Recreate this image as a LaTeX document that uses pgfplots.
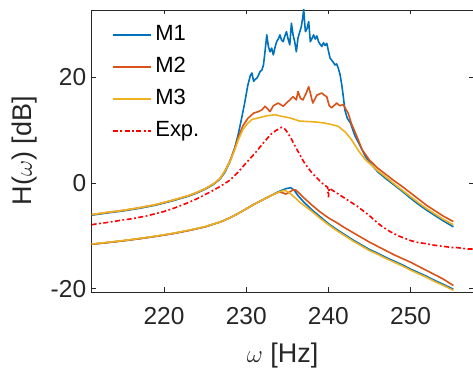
\documentclass[border=0pt]{standalone}
\usepackage{fontspec}
\setmainfont{Liberation Sans}
\usepackage{pgfplots}
\pgfplotsset{compat=1.18}
\usetikzlibrary{calc}
\definecolor{mblue}{rgb}{0,0.447,0.741}
\definecolor{morange}{rgb}{0.850,0.325,0.098}
\definecolor{myellow}{rgb}{0.929,0.694,0.125}
\definecolor{axgray}{rgb}{0.15,0.15,0.15}
\begin{document}
\begin{tikzpicture}
\begin{axis}[
 scale only axis, width=382pt, height=282pt,
 xmin=211.2, xmax=257.65, ymin=-20.6, ymax=32.7,
 xtick={220,230,240,250}, ytick={-20,0,20},
 tick align=inside, major tick length=4.5pt,
 axis line style={axgray, line width=0.6pt},
 every tick/.style={axgray, line width=0.6pt},
 tick label style={font=\fontsize{24.5}{28}\selectfont, text=axgray},
 xticklabel style={yshift=-12pt},
 yticklabel style={xshift=-2pt},
 /pgf/number format/assume math mode=true,
 xlabel={$\omega$ [Hz]}, ylabel={H($\omega$) [dB]},
 label style={font=\fontsize{27}{32}\selectfont, text=axgray},
 xlabel style={at={(axis description cs:0.5,-0.225)}, anchor=center},
 ylabel style={at={(axis description cs:-0.175,0.5)}, anchor=center},
 legend image code/.code={\draw[#1] (0pt,0pt) -- (38pt,0pt);},
 legend image post style={line width=2pt},
 legend style={draw=none, fill=none, at={(rel axis cs:0,1)}, anchor=north west,
   xshift=20pt, yshift=-15pt, font=\fontsize{22}{26}\selectfont, text=black,
   row sep=13pt, inner sep=0pt,
   nodes={inner sep=0pt, text height=15pt, text depth=4pt},
   /tikz/every odd column/.append style={column sep=3.5pt}},
 legend cell align=left,
]
\coordinate (SW) at (rel axis cs:0,0);
\coordinate (NE) at (rel axis cs:1,1);
% M1 upper
\addplot[mblue, line width=1.6pt, line join=round] coordinates {
(211.2,-6.1)(213,-5.7)(215,-5.3)(217,-4.8)(219,-4.2)(221,-3.4)(223,-2.5)(224,-1.9)(225,-1.2)(226,-0.3)(226.8,0.7)(227.4,2.0)(228,3.9)(228.6,6.6)
(229.0,9.0)(229.4,11.9)(229.8,15.0)(230.2,18.5)(230.5,20.3)(230.7,20.8)(230.9,19.2)(231.1,19.6)(231.3,19.8)(231.5,20.4)(231.7,21.1)(231.9,21.3)
(232.1,22.3)(232.3,25.0)(232.5,28.0)(232.7,25.8)(232.9,24.8)(233.1,25.5)(233.3,24.2)(233.5,25.6)(233.7,26.7)(233.9,27.2)(234.1,28.0)(234.3,27.0)
(234.5,26.7)(234.7,27.8)(234.9,28.6)(235.1,27.2)(235.3,26.1)(235.5,30.2)(235.7,28.0)(235.9,26.7)(236.1,24.8)(236.3,27.4)(236.5,28.5)(236.7,29.5)
(236.85,31.0)(237.0,32.8)(237.1,30.5)(237.2,28.6)(237.4,29.2)(237.6,30.5)(237.8,26.7)(238.0,27.3)(238.2,28.0)(238.4,27.2)(238.6,27.8)(238.8,26.7)
(239.0,26.2)(239.2,25.8)(239.4,26.5)(239.6,26.0)(239.8,26.4)(240.0,25.0)(240.2,23.6)(240.4,23.2)(240.6,22.8)(240.8,22.3)(241.0,22.5)(241.2,21.7)
(241.4,20.6)(241.6,18.8)(241.8,16.5)(242.0,13.8)(242.3,12.2)(242.7,11.3)(243.2,9.0)(243.7,7.5)(244.5,5.0)(245,3.9)(246,2.1)(247,0.8)(248,-0.4)
(249,-1.6)(250,-2.9)(251,-4.1)(252,-5.2)(253,-6.2)(254,-7.2)(255.2,-8.3)};
\addlegendentry{M1}
\addplot[mblue, line width=1.6pt, line join=round, forget plot] coordinates {
(211.2,-11.6)(213,-11.3)(215,-10.95)(217,-10.55)(219,-10.1)(221,-9.6)(223,-9.0)(225,-8.3)(227,-7.3)(228,-6.6)(229,-5.8)(230,-4.9)(231,-4.0)
(232,-3.2)(233,-2.4)(234,-1.6)(234.8,-1.1)(235.4,-0.9)(235.8,-1.3)(236.3,-2.4)(237,-3.6)(238,-5.1)(239,-6.4)(240,-7.7)(241,-8.8)(242,-9.8)
(243,-10.8)(244,-11.7)(245,-12.6)(246,-13.3)(247,-14.1)(248,-14.8)(249,-15.5)(250,-16.3)(251,-17.0)(252,-17.7)(253,-18.5)(254,-19.2)(255.2,-20.1)};
% M2 upper
\addplot[morange, line width=1.6pt, line join=round] coordinates {
(211.2,-6.0)(213,-5.6)(215,-5.2)(217,-4.7)(219,-4.1)(221,-3.3)(223,-2.4)(224,-1.8)(225,-1.1)(226,-0.2)(226.8,0.8)(227.4,2.2)(228,4.1)(228.6,6.5)
(229.0,8.5)(229.6,10.8)(230.2,12.2)(230.9,13.2)(231.5,13.5)(231.9,13.8)(232.3,14.5)(232.9,13.5)(233.3,14.6)(233.9,15.1)(234.5,14.5)(235.1,15.4)
(235.7,16.3)(236.1,15.7)(236.3,17.3)(236.6,16.0)(236.9,15.7)(237.3,17.0)(237.6,18.2)(237.8,17.0)(238.1,15.1)(238.6,16.6)(239.2,17.0)(239.5,16.6)
(239.8,16.3)(240.1,14.6)(240.4,14.2)(241.0,15.1)(241.4,14.6)(241.8,14.8)(242.4,13.2)(242.8,11.2)(243.3,9.4)(244.1,6.3)(245,4.3)(246,2.8)(247,1.6)
(248,0.4)(249,-0.7)(250,-1.9)(251,-3.1)(252,-4.3)(253,-5.3)(254,-6.3)(255.2,-7.3)};
\addlegendentry{M2}
\addplot[morange, line width=1.6pt, line join=round, forget plot] coordinates {
(211.2,-11.6)(213,-11.3)(215,-10.95)(217,-10.55)(219,-10.1)(221,-9.6)(223,-9.0)(225,-8.3)(227,-7.3)(228,-6.6)(229,-5.8)(230,-4.9)(231,-4.0)
(232,-3.2)(233,-2.4)(234,-1.7)(234.5,-1.9)(234.8,-2.1)(235.2,-1.8)(235.7,-1.3)(236.0,-1.3)(236.5,-2.0)(237,-2.8)(238,-4.2)(239,-5.5)(240,-6.6)
(241,-7.5)(242,-8.5)(243,-9.4)(244,-10.3)(245,-11.2)(246,-12.0)(247,-12.8)(248,-13.6)(249,-14.3)(250,-15.0)(251,-15.8)(252,-16.6)(253,-17.4)
(254,-18.2)(255.2,-19.4)};
% M3 upper
\addplot[myellow, line width=1.6pt, line join=round] coordinates {
(211.2,-6.0)(213,-5.6)(215,-5.2)(217,-4.7)(219,-4.1)(221,-3.3)(223,-2.4)(224,-1.8)(225,-1.1)(226,-0.2)(226.8,0.8)(227.4,2.2)(228,4.0)(228.6,6.2)
(229.0,8.0)(229.6,10.1)(230.2,11.3)(230.7,12.0)(231.5,12.3)(232.5,12.7)(233.5,12.9)(234.3,12.6)(235.3,12.3)(236.5,11.7)(237.6,11.6)(238.6,11.5)
(239.6,11.3)(240.5,11.0)(241.2,10.7)(242.0,9.7)(242.8,8.2)(243.7,6.0)(244.5,4.4)(245,3.7)(246,2.3)(247,1.1)(248,-0.2)(249,-1.4)(250,-2.6)
(251,-3.8)(252,-4.9)(253,-5.9)(254,-6.9)(255.2,-7.9)};
\addlegendentry{M3}
\addplot[myellow, line width=1.6pt, line join=round, forget plot] coordinates {
(211.2,-11.55)(213,-11.25)(215,-10.9)(217,-10.5)(219,-10.05)(221,-9.55)(223,-8.95)(225,-8.25)(227,-7.3)(228,-6.6)(229,-5.8)(230,-4.9)(231,-4.0)
(232,-3.2)(233,-2.4)(234,-1.7)(234.7,-1.4)(235.2,-1.8)(235.8,-2.6)(236.5,-3.6)(237,-4.2)(238,-5.4)(239,-6.7)(240,-7.9)(241,-9.0)(242,-10.0)
(243,-11.0)(244,-11.9)(245,-12.8)(246,-13.5)(247,-14.3)(248,-15.0)(249,-15.7)(250,-16.5)(251,-17.2)(252,-17.9)(253,-18.7)(254,-19.4)(255.2,-20.3)};
% Exp
\addplot[red, line width=1.6pt, dash pattern=on 5pt off 2.5pt on 1.8pt off 2.5pt] coordinates {
(211.2,-7.9)(212,-7.7)(213,-7.5)(214,-7.25)(215,-7.0)(216,-6.8)(217,-6.5)(218,-6.2)(219,-5.8)(220,-5.4)(221,-4.9)(222,-4.3)(223,-3.7)(224,-3.0)
(225,-2.2)(226,-1.4)(227,-0.5)(228,0.5)(229,2.0)(230,3.8)(231,5.5)(232,7.4)(233,9.2)(233.6,9.9)(234,10.2)(234.3,10.5)(234.7,10.2)(235,9.6)
(235.5,8.3)(236,6.8)(236.5,5.4)(237,4.0)(237.5,2.9)(238,1.9)(238.5,1.1)(239,0.3)(239.5,-0.4)(239.9,-0.8)(240.0,-2.7)(240.1,-1.0)(240.5,-1.4)
(241,-1.9)(241.5,-2.4)(242,-2.9)(242.5,-3.4)(243,-3.9)(243.5,-4.4)(244,-5.0)(244.5,-5.6)(245,-6.2)(245.5,-6.9)(246,-7.6)(246.5,-8.2)(247,-8.7)
(247.5,-9.2)(248,-9.6)(248.5,-10.0)(249,-10.3)(249.5,-10.6)(250,-10.9)(250.5,-11.1)(251,-11.3)(251.5,-11.4)(252,-11.5)(252.5,-11.7)(253,-11.8)
(253.5,-11.9)(254,-12.0)(254.5,-12.1)(255,-12.2)(255.5,-12.2)(256,-12.3)(256.5,-12.4)(257,-12.5)(257.6,-12.5)};
\addlegendentry{Exp.}
\end{axis}
\pgfresetboundingbox
\path[use as bounding box] ($(SW)+(-91.7pt,-82pt)$) rectangle ($(NE)+(-0.5pt,10pt)$);
\end{tikzpicture}
\end{document}
